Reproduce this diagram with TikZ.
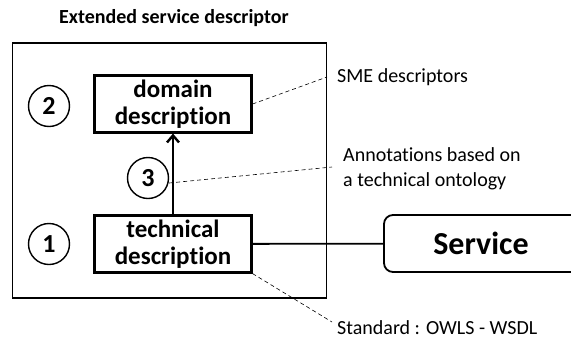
\documentclass[tikz,border=0pt]{standalone}
\usepackage{fontspec}
\setmainfont[Ligatures=NoCommon]{Carlito}
\usepackage{tikz}
\usetikzlibrary{arrows.meta}

\begin{document}
\begin{tikzpicture}[x=1pt,y=-1pt,
	descbox/.style={draw, line width=2.2pt, minimum width=157pt, minimum height=57pt, align=center, inner sep=0pt, font=\fontsize{25}{27}\selectfont\bfseries},
	num/.style={draw, circle, line width=1.4pt, minimum size=41pt, inner sep=0pt, font=\fontsize{26}{26}\selectfont\bfseries},
	note/.style={anchor=west, align=left, inner sep=0pt, font=\fontsize{20}{25}\selectfont},
	link/.style={line width=0.6pt, dash pattern=on 4pt off 3pt}]
	\useasboundingbox (0,0) rectangle (571,338);
	%title
	\node[font=\fontsize{20}{20}\selectfont\bfseries] (title) at (174,18) {Extended service descriptor};
	%outer frame
	\draw[line width=1.3pt] (12.5,43) rectangle (326.5,298);
	%boxes
	\node[descbox] (domain) at (173,104) {domain\\description};
	\node[descbox] (technical) at (173,244) {technical\\description};
	\draw[line width=2.6pt, -{Straight Barb[length=7pt,width=12pt,line width=2.4pt]}] (technical) -- (domain);
	%numbers
	\node[num] (one) at (49,244) {1};
	\node[num] (two) at (49,106) {2};
	\node[num] (three) at (148,178) {3};
	%service
	\node[draw, line width=1.8pt, rounded corners=9pt, minimum width=200pt, minimum height=57pt, inner sep=0pt, font=\fontsize{32}{32}\selectfont\bfseries] (service) at (484,243.5) {\hspace*{-3pt}Service\hspace*{3pt}};
	\draw[line width=1.8pt] (technical) -- (service);
	%notes
	\node[note] (sme) at (337,77) {SME descriptors};
	\node[note] (annot) at (343,169) {Annotations based on\\a technical ontology};
	\node[note, anchor=base west] (std) at (337,334) {Standard : OWLS - WSDL};
	\coordinate (smeend) at (327,77);
	\coordinate (annotend) at (332,167);
	\coordinate (stdend) at (332,322);
	\draw[link] (domain.east) -- (smeend);
	\draw[link] (three.east) ++(0,5) -- (annotend);
	\draw[link] (technical.south east) -- (stdend);
\end{tikzpicture}
\end{document}
